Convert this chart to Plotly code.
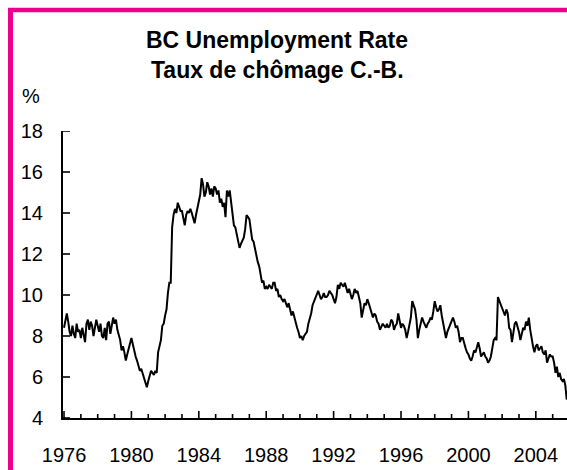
import plotly.graph_objects as go

# Monthly BC unemployment rate (%), Jan 1976 - Nov 2005
r1976 = [8.4, 8.8, 9.1, 8.7, 8.2, 8.0, 8.5, 8.1, 7.9, 8.6, 8.2, 8.3]
r1977 = [7.9, 8.4, 8.1, 7.7, 8.6, 8.8, 8.3, 8.7, 8.5, 8.0, 8.4, 8.8]
r1978 = [8.5, 8.2, 8.6, 8.0, 7.9, 8.4, 7.8, 8.6, 8.7, 8.1, 8.5, 8.9]
r1979 = [8.6, 8.8, 8.3, 8.0, 7.8, 7.3, 7.5, 7.2, 6.8, 7.1, 7.4, 7.6]
r1980 = [7.9, 7.6, 7.2, 7.0, 6.8, 6.6, 6.3, 6.4, 6.2, 5.9, 5.7, 5.5]
r1981 = [5.8, 6.0, 6.3, 6.2, 6.1, 6.3, 6.2, 7.2, 7.6, 7.8, 8.5, 8.6]
r1982 = [9.0, 9.3, 10.1, 10.6, 10.6, 13.3, 13.9, 14.2, 14.0, 14.5, 14.3, 14.1]
r1983 = [14.1, 13.8, 13.4, 13.9, 14.1, 14.0, 14.2, 14.0, 13.8, 13.5, 13.9, 14.2]
r1984 = [14.5, 14.9, 15.7, 15.4, 14.8, 15.0, 15.5, 15.3, 14.9, 15.2, 14.8, 15.3]
r1985 = [15.2, 14.9, 15.1, 14.5, 14.7, 14.3, 14.5, 13.8, 15.1, 14.8, 15.1, 14.6]
r1986 = [14.1, 13.4, 13.3, 13.0, 12.6, 12.3, 12.5, 12.7, 12.8, 13.2, 13.9, 13.8]
r1987 = [13.7, 13.2, 12.7, 12.6, 12.2, 12.0, 11.6, 11.4, 11.0, 10.6, 10.7, 10.3]
r1988 = [10.4, 10.3, 10.5, 10.4, 10.3, 10.6, 10.6, 10.2, 10.3, 9.9, 10.0, 9.8]
r1989 = [9.7, 9.8, 9.6, 9.4, 9.6, 9.3, 9.0, 9.2, 8.9, 8.6, 8.4, 8.2]
r1990 = [7.9, 8.0, 7.8, 8.0, 8.1, 8.2, 8.6, 8.8, 9.1, 9.5, 9.7, 9.9]
r1991 = [10.0, 10.2, 10.0, 9.8, 9.9, 10.1, 9.9, 9.9, 10.0, 10.2, 10.1, 10.0]
r1992 = [9.8, 9.6, 9.9, 10.5, 10.3, 10.6, 10.5, 10.4, 10.6, 10.4, 10.1, 10.3]
r1993 = [10.1, 9.8, 10.0, 10.3, 10.1, 10.2, 9.9, 9.6, 8.9, 9.3, 9.6, 9.5]
r1994 = [9.8, 9.6, 9.4, 9.2, 8.9, 9.1, 9.0, 8.7, 8.6, 8.3, 8.5, 8.6]
r1995 = [8.5, 8.4, 8.6, 8.4, 8.5, 8.8, 8.7, 8.3, 8.5, 8.6, 9.1, 8.8]
r1996 = [8.4, 8.6, 8.5, 8.3, 7.9, 8.2, 8.6, 8.9, 9.7, 9.5, 9.3, 8.8]
r1997 = [7.9, 8.3, 8.6, 8.9, 8.7, 8.5, 8.4, 8.6, 8.7, 8.9, 8.8, 9.2]
r1998 = [9.7, 9.4, 9.2, 9.3, 9.5, 9.0, 8.6, 8.3, 7.9, 8.2, 8.4, 8.6]
r1999 = [8.7, 8.9, 8.7, 8.4, 8.5, 8.2, 7.7, 7.9, 7.9, 7.6, 7.4, 7.2]
r2000 = [7.1, 6.9, 6.8, 7.0, 7.3, 7.2, 7.5, 7.7, 7.4, 7.0, 7.1, 7.2]
r2001 = [7.0, 6.9, 6.7, 6.8, 7.0, 7.4, 7.8, 7.9, 7.8, 9.9, 9.7, 9.6]
r2002 = [9.4, 9.2, 9.0, 9.3, 9.1, 8.4, 8.3, 7.7, 8.2, 8.6, 8.7, 8.5]
r2003 = [8.2, 7.8, 8.1, 8.4, 8.3, 8.7, 8.5, 8.9, 8.3, 7.8, 7.5, 7.2]
r2004 = [7.5, 7.6, 7.3, 7.4, 7.5, 7.2, 7.1, 7.3, 6.7, 6.9, 7.1, 7.0]
r2005 = [7.0, 6.7, 6.2, 6.5, 6.0, 6.2, 5.9, 5.8, 5.9, 5.6, 4.9]

yearly = [r1976, r1977, r1978, r1979, r1980, r1981, r1982, r1983, r1984, r1985,
          r1986, r1987, r1988, r1989, r1990, r1991, r1992, r1993, r1994, r1995,
          r1996, r1997, r1998, r1999, r2000, r2001, r2002, r2003, r2004, r2005]
start_year = 1976

x_vals, y_vals = [], []
for i, yr in enumerate(yearly):
    for m, v in enumerate(yr):
        x_vals.append(start_year + i + m / 12.0)
        y_vals.append(v)

x_tick_labels = ["1976", "1980", "1984", "1988", "1992", "1996", "2000", "2004"]
x_tick_vals = [int(s) for s in x_tick_labels]
x_minor_years = [start_year + i for i in range(len(yearly))]
y_tick_vals = [4, 6, 8, 10, 12, 14, 16, 18]

title_line1 = "BC Unemployment Rate"
title_line2 = "Taux de chômage C.-B."
unit_label = "%"

# figure fills the whole 567x470 window (body margin removed below)
W, H = 567, 470
L, R, T, B = 63, 0, 131, 52
PW, PH = W - L - R, H - T - B
X_RANGE = [1975.94, 2005.85]
Y_RANGE = [4, 18]
X_PX_PER_UNIT = PW / (X_RANGE[1] - X_RANGE[0])
Y_PX_PER_UNIT = PH / (Y_RANGE[1] - Y_RANGE[0])
MAJOR_LEN, MINOR_LEN = 7, 4  # tick lengths in px (inside the plot)

def px(xp):  # page x -> paper
    return (xp - L) / PW

def py(yp):  # page y -> paper
    return (H - B - yp) / PH

FONT = "Liberation Sans, Arial, Helvetica, sans-serif"
MAG = "#EC008C"

fig = go.Figure()
fig.add_trace(go.Scatter(x=x_vals, y=y_vals, mode="lines",
                         line=dict(color="black", width=2), hoverinfo="x+y",
                         showlegend=False))

# inside tick marks (drawn through the axis scales as upward / rightward bars)
xt_len = [(MAJOR_LEN if yv in x_tick_vals else MINOR_LEN) / Y_PX_PER_UNIT
          for yv in x_minor_years]
fig.add_trace(go.Scatter(
    x=x_minor_years, y=[Y_RANGE[0]] * len(x_minor_years), mode="markers",
    marker=dict(size=1, color="rgba(0,0,0,0)"),
    error_y=dict(type="data", symmetric=False, array=xt_len,
                 arrayminus=[0] * len(x_minor_years),
                 thickness=1.6, width=0, color="black"),
    cliponaxis=False, hoverinfo="skip", showlegend=False))
fig.add_trace(go.Scatter(
    x=[X_RANGE[0]] * len(y_tick_vals), y=y_tick_vals, mode="markers",
    marker=dict(size=1, color="rgba(0,0,0,0)"),
    error_x=dict(type="data", symmetric=False,
                 array=[MAJOR_LEN / X_PX_PER_UNIT] * len(y_tick_vals),
                 arrayminus=[0] * len(y_tick_vals),
                 thickness=1.6, width=0, color="black"),
    cliponaxis=False, hoverinfo="skip", showlegend=False))

fig.update_layout(
    width=W, height=H,
    margin=dict(l=L, r=R, t=T, b=B, pad=0),
    paper_bgcolor="white", plot_bgcolor="white",
    font=dict(family=FONT, color="black", size=20),
    showlegend=False,
    xaxis=dict(
        range=X_RANGE,
        tickmode="array", tickvals=x_tick_vals, ticktext=x_tick_labels,
        ticks="",
        showline=True, linecolor="black", linewidth=2,
        showgrid=False, zeroline=False,
        tickfont=dict(size=20, family=FONT, color="black"),
        ticklabelstandoff=18,
    ),
    yaxis=dict(
        range=Y_RANGE,
        tickmode="array", tickvals=y_tick_vals,
        ticks="",
        showline=True, linecolor="black", linewidth=2,
        showgrid=False, zeroline=False,
        tickfont=dict(size=20, family=FONT, color="black"),
        ticklabelstandoff=14,
    ),
    shapes=[
        dict(type="line", xref="paper", yref="paper",
             x0=px(10.5), x1=px(10.5), y0=py(8), y1=py(500),
             line=dict(color=MAG, width=5), layer="above"),
        dict(type="line", xref="paper", yref="paper",
             x0=px(8), x1=px(600), y0=py(10), y1=py(10),
             line=dict(color=MAG, width=4.5), layer="above"),
    ],
    annotations=[
        dict(text="<b>" + title_line1 + "</b>", xref="paper", yref="paper",
             x=px(277), y=py(40), xanchor="center", yanchor="middle",
             showarrow=False, font=dict(size=23, family=FONT, color="black")),
        dict(text="<b>" + title_line2 + "</b>", xref="paper", yref="paper",
             x=px(277), y=py(70), xanchor="center", yanchor="middle",
             showarrow=False, font=dict(size=23, family=FONT, color="black")),
        dict(text=unit_label, xref="paper", yref="paper",
             x=px(31), y=py(96), xanchor="center", yanchor="middle",
             showarrow=False, font=dict(size=20, family=FONT, color="black")),
    ],
)

fig.write_html(
    "out.html",
    config={"displayModeBar": False},
    post_script="document.body.style.margin='0';"
                "document.documentElement.style.overflow='hidden';"
                "document.body.style.overflow='hidden';",
)
